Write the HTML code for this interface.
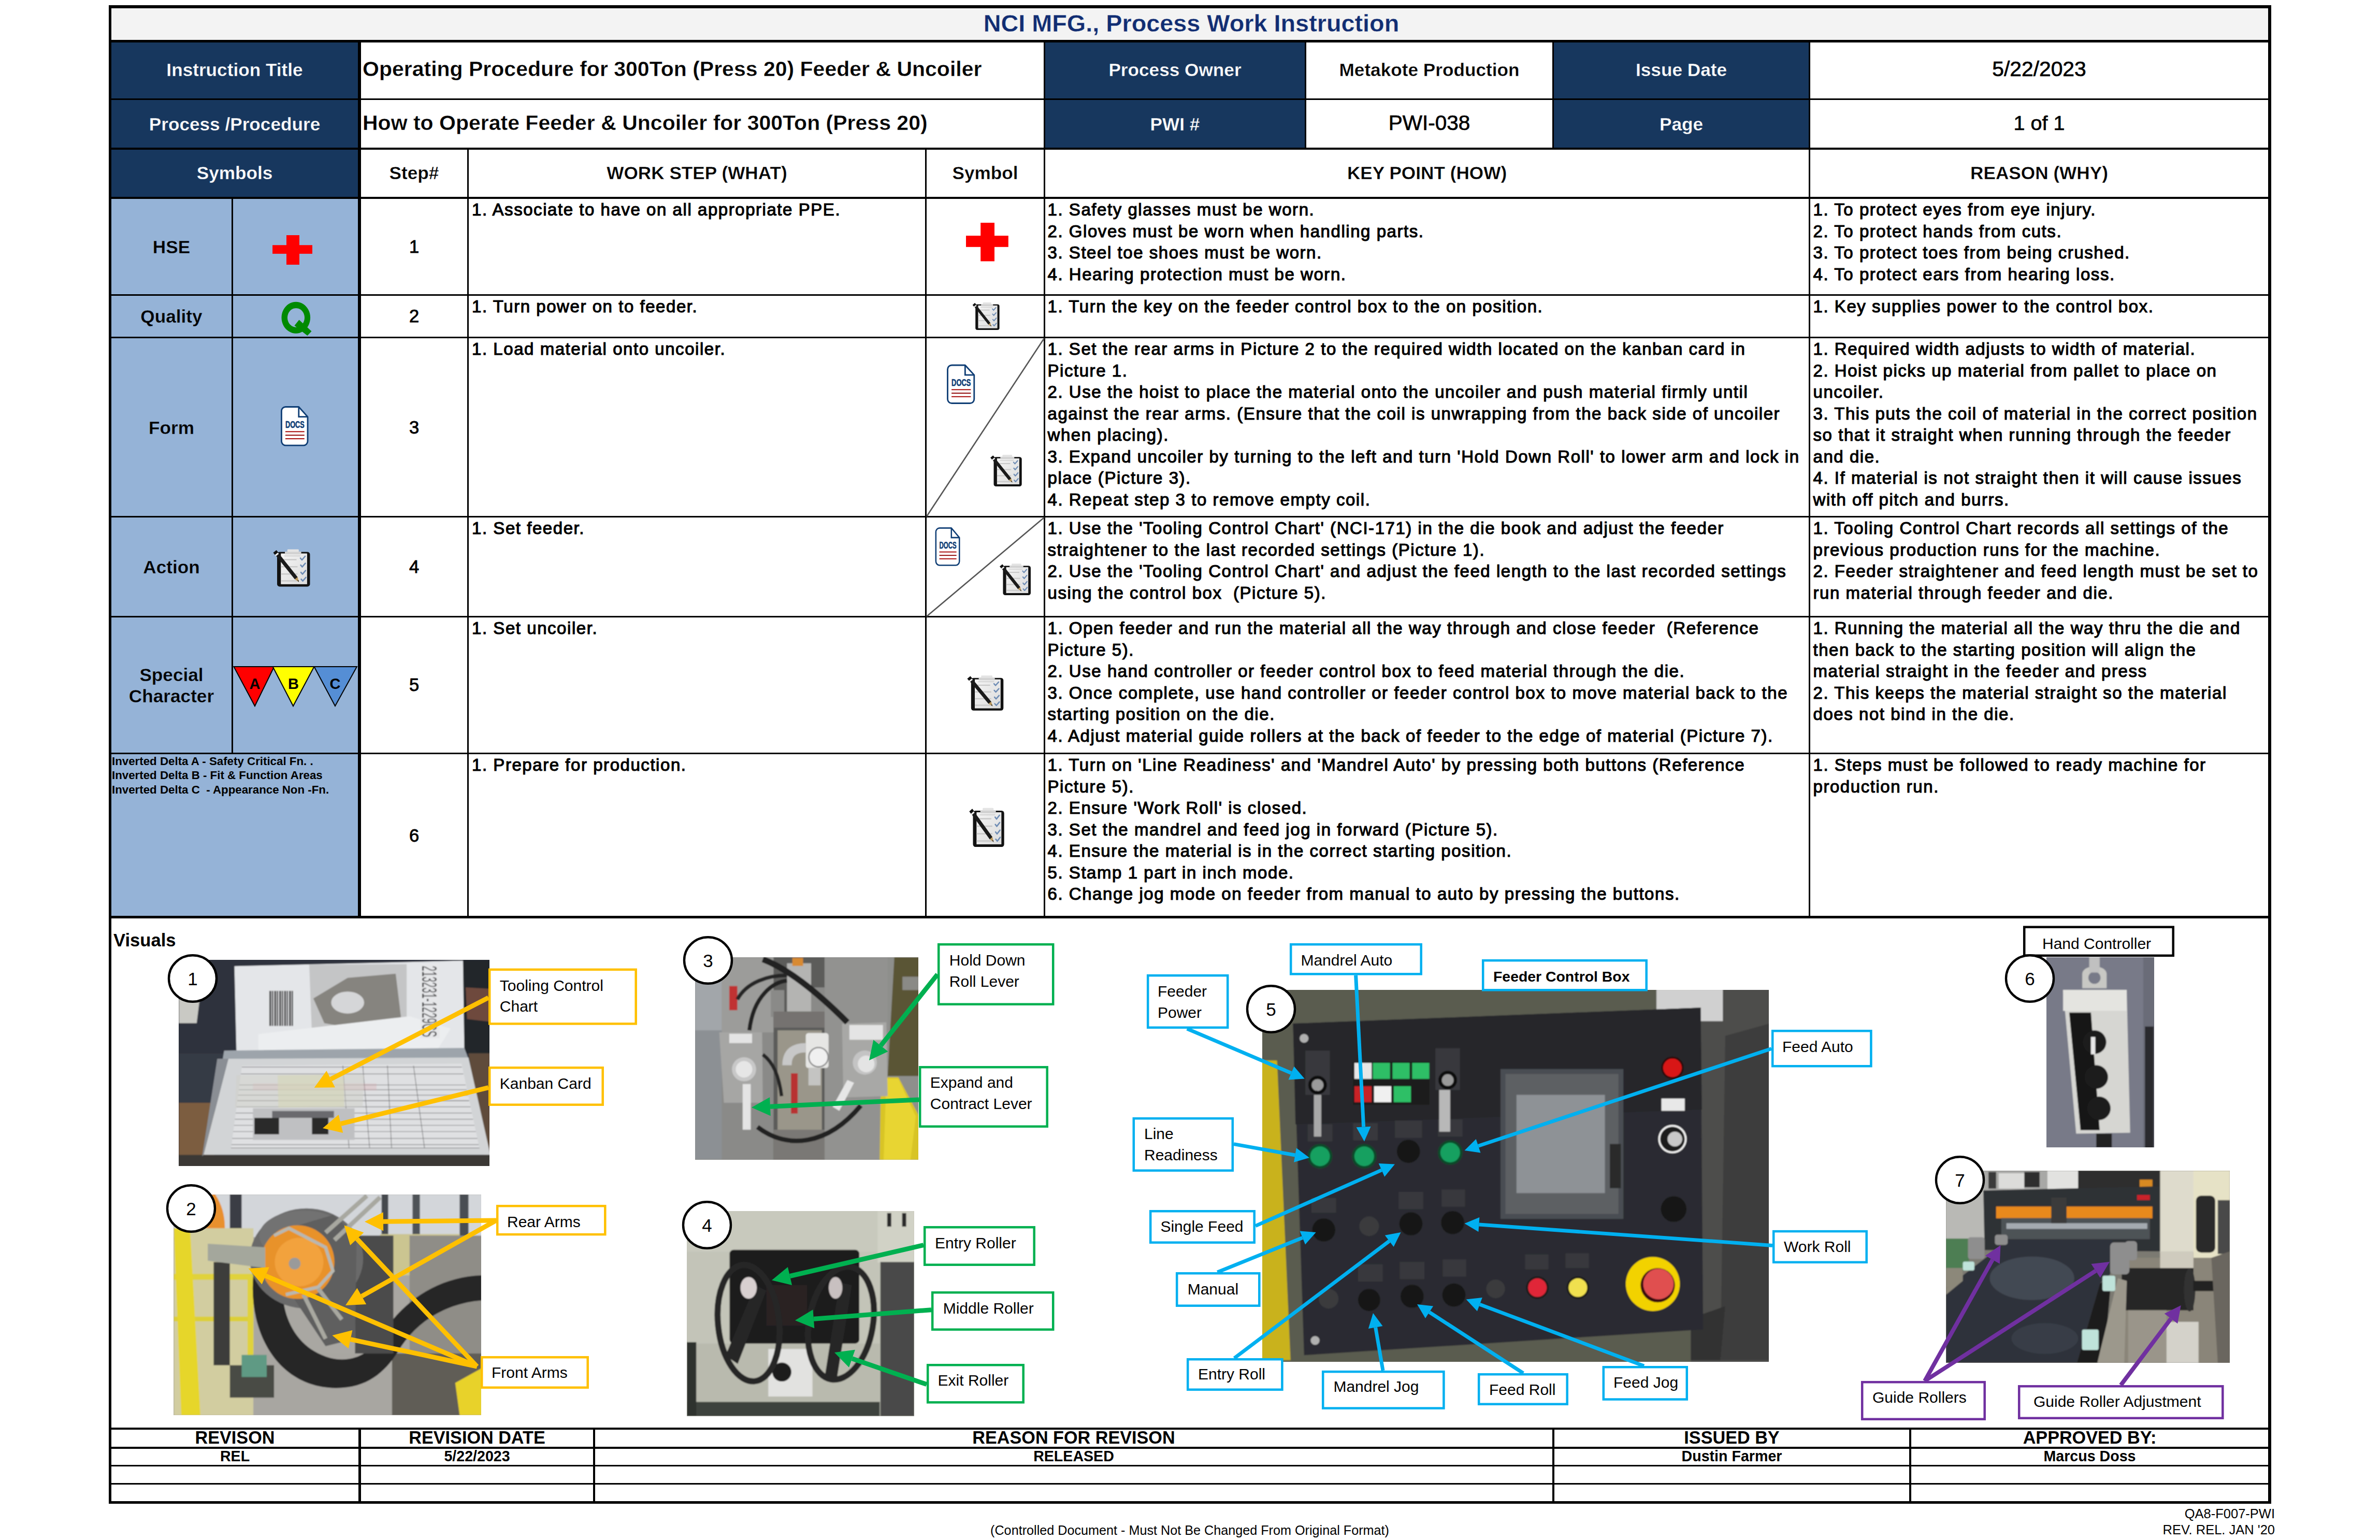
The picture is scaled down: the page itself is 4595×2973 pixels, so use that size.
<!DOCTYPE html>
<html><head><meta charset="utf-8"><title>NCI MFG., Process Work Instruction</title>
<style>
html,body{margin:0;padding:0;background:#fff;}
body{width:4595px;height:2973px;position:relative;overflow:hidden;font-family:"Liberation Sans", sans-serif;}
body div{font-family:"Liberation Sans", sans-serif;}
svg{position:absolute;left:0;top:0;}
</style></head><body>
<div style="position:absolute;left:215px;top:16px;width:4164px;height:61px;background:#f3f3f3;"></div>
<div style="position:absolute;left:215px;top:82px;width:476px;height:298px;background:#17375e;"></div>
<div style="position:absolute;left:2018px;top:82px;width:501px;height:203px;background:#17375e;"></div>
<div style="position:absolute;left:3000px;top:82px;width:492px;height:203px;background:#17375e;"></div>
<div style="position:absolute;left:215px;top:384px;width:476px;height:1384px;background:#95b3d7;"></div>
<div style="position:absolute;left:210px;top:10px;width:4175px;height:6px;background:#000;"></div>
<div style="position:absolute;left:210px;top:77px;width:4175px;height:5px;background:#000;"></div>
<div style="position:absolute;left:210px;top:190px;width:4175px;height:3px;background:#000;"></div>
<div style="position:absolute;left:210px;top:285px;width:4175px;height:4px;background:#000;"></div>
<div style="position:absolute;left:210px;top:380px;width:4175px;height:4px;background:#000;"></div>
<div style="position:absolute;left:210px;top:568px;width:4175px;height:3px;background:#000;"></div>
<div style="position:absolute;left:210px;top:650px;width:4175px;height:3px;background:#000;"></div>
<div style="position:absolute;left:210px;top:996px;width:4175px;height:3px;background:#000;"></div>
<div style="position:absolute;left:210px;top:1189px;width:4175px;height:3px;background:#000;"></div>
<div style="position:absolute;left:210px;top:1453px;width:4175px;height:3px;background:#000;"></div>
<div style="position:absolute;left:210px;top:1768px;width:4175px;height:5px;background:#000;"></div>
<div style="position:absolute;left:210px;top:2756px;width:4175px;height:4px;background:#000;"></div>
<div style="position:absolute;left:210px;top:2793px;width:4175px;height:4px;background:#000;"></div>
<div style="position:absolute;left:210px;top:2828px;width:4175px;height:3px;background:#000;"></div>
<div style="position:absolute;left:210px;top:2863px;width:4175px;height:3px;background:#000;"></div>
<div style="position:absolute;left:210px;top:2898px;width:4175px;height:5px;background:#000;"></div>
<div style="position:absolute;left:210px;top:10px;width:5px;height:2893px;background:#000;"></div>
<div style="position:absolute;left:4379px;top:10px;width:6px;height:2893px;background:#000;"></div>
<div style="position:absolute;left:447px;top:384px;width:3px;height:1069px;background:#000;"></div>
<div style="position:absolute;left:691px;top:82px;width:6px;height:1691px;background:#000;"></div>
<div style="position:absolute;left:902px;top:289px;width:3px;height:1479px;background:#000;"></div>
<div style="position:absolute;left:1786px;top:289px;width:3px;height:1479px;background:#000;"></div>
<div style="position:absolute;left:2015px;top:82px;width:3px;height:1686px;background:#000;"></div>
<div style="position:absolute;left:2519px;top:82px;width:3px;height:207px;background:#000;"></div>
<div style="position:absolute;left:2997px;top:82px;width:3px;height:207px;background:#000;"></div>
<div style="position:absolute;left:3492px;top:82px;width:3px;height:1686px;background:#000;"></div>
<div style="position:absolute;left:692px;top:2756px;width:5px;height:147px;background:#000;"></div>
<div style="position:absolute;left:1145px;top:2756px;width:4px;height:147px;background:#000;"></div>
<div style="position:absolute;left:2997px;top:2756px;width:4px;height:147px;background:#000;"></div>
<div style="position:absolute;left:3686px;top:2756px;width:4px;height:147px;background:#000;"></div>
<div style="position:absolute;left:218px;top:21.67px;width:4164px;font-size:46.8px;line-height:46.8px;font-weight:bold;color:#112d72;text-align:center;white-space:pre;-webkit-text-stroke:0.35px #f3f3f3;">NCI MFG., Process Work Instruction</div>
<div style="position:absolute;left:215px;top:116.69px;width:476px;font-size:35.2px;line-height:35.2px;font-weight:bold;color:#fff;text-align:center;white-space:pre;-webkit-text-stroke:0.35px #17375e;">Instruction Title</div>
<div style="position:absolute;left:215px;top:221.69px;width:476px;font-size:35.2px;line-height:35.2px;font-weight:bold;color:#fff;text-align:center;white-space:pre;-webkit-text-stroke:0.35px #17375e;">Process /Procedure</div>
<div style="position:absolute;left:215px;top:316.19px;width:476px;font-size:35.2px;line-height:35.2px;font-weight:bold;color:#fff;text-align:center;white-space:pre;-webkit-text-stroke:0.35px #17375e;">Symbols</div>
<div style="position:absolute;left:700px;top:113.08px;font-size:41px;line-height:41px;font-weight:bold;color:#000;text-align:left;white-space:pre;-webkit-text-stroke:0.35px #fff;">Operating Procedure for 300Ton (Press 20) Feeder &amp; Uncoiler</div>
<div style="position:absolute;left:700px;top:217.48px;font-size:41px;line-height:41px;font-weight:bold;color:#000;text-align:left;white-space:pre;-webkit-text-stroke:0.35px #fff;">How to Operate Feeder &amp; Uncoiler for 300Ton (Press 20)</div>
<div style="position:absolute;left:2018px;top:117.19px;width:501px;font-size:35.2px;line-height:35.2px;font-weight:bold;color:#fff;text-align:center;white-space:pre;-webkit-text-stroke:0.35px #17375e;">Process Owner</div>
<div style="position:absolute;left:2018px;top:221.69px;width:501px;font-size:35.2px;line-height:35.2px;font-weight:bold;color:#fff;text-align:center;white-space:pre;-webkit-text-stroke:0.35px #17375e;">PWI #</div>
<div style="position:absolute;left:2522px;top:117.19px;width:475px;font-size:35.2px;line-height:35.2px;font-weight:bold;color:#000;text-align:center;white-space:pre;-webkit-text-stroke:0.35px #fff;">Metakote Production</div>
<div style="position:absolute;left:2522px;top:217.40px;width:475px;font-size:40.5px;line-height:40.5px;font-weight:normal;color:#000;text-align:center;white-space:pre;-webkit-text-stroke:0.7px #000;">PWI-038</div>
<div style="position:absolute;left:3000px;top:117.19px;width:492px;font-size:35.2px;line-height:35.2px;font-weight:bold;color:#fff;text-align:center;white-space:pre;-webkit-text-stroke:0.35px #17375e;">Issue Date</div>
<div style="position:absolute;left:3000px;top:221.69px;width:492px;font-size:35.2px;line-height:35.2px;font-weight:bold;color:#fff;text-align:center;white-space:pre;-webkit-text-stroke:0.35px #17375e;">Page</div>
<div style="position:absolute;left:3495px;top:113.45px;width:884px;font-size:40.8px;line-height:40.8px;font-weight:normal;color:#000;text-align:center;white-space:pre;-webkit-text-stroke:0.7px #000;">5/22/2023</div>
<div style="position:absolute;left:3495px;top:217.55px;width:884px;font-size:39.5px;line-height:39.5px;font-weight:normal;color:#000;text-align:center;white-space:pre;-webkit-text-stroke:0.7px #000;">1 of 1</div>
<div style="position:absolute;left:697px;top:316.19px;width:205px;font-size:35.2px;line-height:35.2px;font-weight:bold;color:#000;text-align:center;white-space:pre;-webkit-text-stroke:0.35px #fff;">Step#</div>
<div style="position:absolute;left:905px;top:316.19px;width:881px;font-size:35.2px;line-height:35.2px;font-weight:bold;color:#000;text-align:center;white-space:pre;-webkit-text-stroke:0.35px #fff;">WORK STEP (WHAT)</div>
<div style="position:absolute;left:1789px;top:316.19px;width:226px;font-size:35.2px;line-height:35.2px;font-weight:bold;color:#000;text-align:center;white-space:pre;-webkit-text-stroke:0.35px #fff;">Symbol</div>
<div style="position:absolute;left:2018px;top:316.19px;width:1474px;font-size:35.2px;line-height:35.2px;font-weight:bold;color:#000;text-align:center;white-space:pre;-webkit-text-stroke:0.35px #fff;">KEY POINT (HOW)</div>
<div style="position:absolute;left:3495px;top:316.19px;width:884px;font-size:35.2px;line-height:35.2px;font-weight:bold;color:#000;text-align:center;white-space:pre;-webkit-text-stroke:0.35px #fff;">REASON (WHY)</div>
<div style="position:absolute;left:215px;top:458.59px;width:232px;font-size:35.2px;line-height:35.2px;font-weight:bold;color:#000;text-align:center;white-space:pre;-webkit-text-stroke:0.35px #95b3d7;">HSE</div>
<div style="position:absolute;left:215px;top:592.69px;width:232px;font-size:35.2px;line-height:35.2px;font-weight:bold;color:#000;text-align:center;white-space:pre;-webkit-text-stroke:0.35px #95b3d7;">Quality</div>
<div style="position:absolute;left:215px;top:807.69px;width:232px;font-size:35.2px;line-height:35.2px;font-weight:bold;color:#000;text-align:center;white-space:pre;-webkit-text-stroke:0.35px #95b3d7;">Form</div>
<div style="position:absolute;left:215px;top:1076.69px;width:232px;font-size:35.2px;line-height:35.2px;font-weight:bold;color:#000;text-align:center;white-space:pre;-webkit-text-stroke:0.35px #95b3d7;">Action</div>
<div style="position:absolute;left:215px;top:1284.59px;width:232px;font-size:35.2px;line-height:35.2px;font-weight:bold;color:#000;text-align:center;white-space:pre;-webkit-text-stroke:0.35px #95b3d7;">Special</div>
<div style="position:absolute;left:215px;top:1326.19px;width:232px;font-size:35.2px;line-height:35.2px;font-weight:bold;color:#000;text-align:center;white-space:pre;-webkit-text-stroke:0.35px #95b3d7;">Character</div>
<div style="position:absolute;left:697px;top:459.09px;width:205px;font-size:34.5px;line-height:34.5px;font-weight:normal;color:#000;text-align:center;white-space:pre;-webkit-text-stroke:0.9px #000;">1</div>
<div style="position:absolute;left:697px;top:592.99px;width:205px;font-size:34.5px;line-height:34.5px;font-weight:normal;color:#000;text-align:center;white-space:pre;-webkit-text-stroke:0.9px #000;">2</div>
<div style="position:absolute;left:697px;top:807.99px;width:205px;font-size:34.5px;line-height:34.5px;font-weight:normal;color:#000;text-align:center;white-space:pre;-webkit-text-stroke:0.9px #000;">3</div>
<div style="position:absolute;left:697px;top:1076.99px;width:205px;font-size:34.5px;line-height:34.5px;font-weight:normal;color:#000;text-align:center;white-space:pre;-webkit-text-stroke:0.9px #000;">4</div>
<div style="position:absolute;left:697px;top:1305.49px;width:205px;font-size:34.5px;line-height:34.5px;font-weight:normal;color:#000;text-align:center;white-space:pre;-webkit-text-stroke:0.9px #000;">5</div>
<div style="position:absolute;left:697px;top:1595.89px;width:205px;font-size:34.5px;line-height:34.5px;font-weight:normal;color:#000;text-align:center;white-space:pre;-webkit-text-stroke:0.9px #000;">6</div>
<div style="position:absolute;left:216px;top:1459.12px;font-size:22.3px;line-height:22.3px;font-weight:bold;color:#000;text-align:left;white-space:pre;">Inverted Delta A - Safety Critical Fn. .</div>
<div style="position:absolute;left:216px;top:1486.42px;font-size:22.3px;line-height:22.3px;font-weight:bold;color:#000;text-align:left;white-space:pre;">Inverted Delta B - Fit &amp; Function Areas</div>
<div style="position:absolute;left:216px;top:1513.72px;font-size:22.3px;line-height:22.3px;font-weight:bold;color:#000;text-align:left;white-space:pre;">Inverted Delta C  - Appearance Non -Fn.</div>
<div style="position:absolute;left:911px;top:388.06px;font-size:33px;line-height:33px;font-weight:normal;letter-spacing:1.55px;-webkit-text-stroke:1.15px #000;color:#000;white-space:pre;">1. Associate to have on all appropriate PPE.</div>
<div style="position:absolute;left:2022.5px;top:388.06px;font-size:33px;line-height:33px;font-weight:normal;letter-spacing:1.55px;-webkit-text-stroke:1.15px #000;color:#000;white-space:pre;">1. Safety glasses must be worn.</div>
<div style="position:absolute;left:2022.5px;top:429.56px;font-size:33px;line-height:33px;font-weight:normal;letter-spacing:1.55px;-webkit-text-stroke:1.15px #000;color:#000;white-space:pre;">2. Gloves must be worn when handling parts.</div>
<div style="position:absolute;left:2022.5px;top:471.06px;font-size:33px;line-height:33px;font-weight:normal;letter-spacing:1.55px;-webkit-text-stroke:1.15px #000;color:#000;white-space:pre;">3. Steel toe shoes must be worn.</div>
<div style="position:absolute;left:2022.5px;top:512.56px;font-size:33px;line-height:33px;font-weight:normal;letter-spacing:1.55px;-webkit-text-stroke:1.15px #000;color:#000;white-space:pre;">4. Hearing protection must be worn.</div>
<div style="position:absolute;left:3500.5px;top:388.06px;font-size:33px;line-height:33px;font-weight:normal;letter-spacing:1.55px;-webkit-text-stroke:1.15px #000;color:#000;white-space:pre;">1. To protect eyes from eye injury.</div>
<div style="position:absolute;left:3500.5px;top:429.56px;font-size:33px;line-height:33px;font-weight:normal;letter-spacing:1.55px;-webkit-text-stroke:1.15px #000;color:#000;white-space:pre;">2. To protect hands from cuts.</div>
<div style="position:absolute;left:3500.5px;top:471.06px;font-size:33px;line-height:33px;font-weight:normal;letter-spacing:1.55px;-webkit-text-stroke:1.15px #000;color:#000;white-space:pre;">3. To protect toes from being crushed.</div>
<div style="position:absolute;left:3500.5px;top:512.56px;font-size:33px;line-height:33px;font-weight:normal;letter-spacing:1.55px;-webkit-text-stroke:1.15px #000;color:#000;white-space:pre;">4. To protect ears from hearing loss.</div>
<div style="position:absolute;left:911px;top:575.06px;font-size:33px;line-height:33px;font-weight:normal;letter-spacing:1.55px;-webkit-text-stroke:1.15px #000;color:#000;white-space:pre;">1. Turn power on to feeder.</div>
<div style="position:absolute;left:2022.5px;top:575.06px;font-size:33px;line-height:33px;font-weight:normal;letter-spacing:1.55px;-webkit-text-stroke:1.15px #000;color:#000;white-space:pre;">1. Turn the key on the feeder control box to the on position.</div>
<div style="position:absolute;left:3500.5px;top:575.06px;font-size:33px;line-height:33px;font-weight:normal;letter-spacing:1.55px;-webkit-text-stroke:1.15px #000;color:#000;white-space:pre;">1. Key supplies power to the control box.</div>
<div style="position:absolute;left:911px;top:657.06px;font-size:33px;line-height:33px;font-weight:normal;letter-spacing:1.55px;-webkit-text-stroke:1.15px #000;color:#000;white-space:pre;">1. Load material onto uncoiler.</div>
<div style="position:absolute;left:2022.5px;top:657.06px;font-size:33px;line-height:33px;font-weight:normal;letter-spacing:1.55px;-webkit-text-stroke:1.15px #000;color:#000;white-space:pre;">1. Set the rear arms in Picture 2 to the required width located on the kanban card in</div>
<div style="position:absolute;left:2022.5px;top:698.56px;font-size:33px;line-height:33px;font-weight:normal;letter-spacing:1.55px;-webkit-text-stroke:1.15px #000;color:#000;white-space:pre;">Picture 1.</div>
<div style="position:absolute;left:2022.5px;top:740.06px;font-size:33px;line-height:33px;font-weight:normal;letter-spacing:1.55px;-webkit-text-stroke:1.15px #000;color:#000;white-space:pre;">2. Use the hoist to place the material onto the uncoiler and push material firmly until</div>
<div style="position:absolute;left:2022.5px;top:781.56px;font-size:33px;line-height:33px;font-weight:normal;letter-spacing:1.55px;-webkit-text-stroke:1.15px #000;color:#000;white-space:pre;">against the rear arms. (Ensure that the coil is unwrapping from the back side of uncoiler</div>
<div style="position:absolute;left:2022.5px;top:823.06px;font-size:33px;line-height:33px;font-weight:normal;letter-spacing:1.55px;-webkit-text-stroke:1.15px #000;color:#000;white-space:pre;">when placing).</div>
<div style="position:absolute;left:2022.5px;top:864.56px;font-size:33px;line-height:33px;font-weight:normal;letter-spacing:1.55px;-webkit-text-stroke:1.15px #000;color:#000;white-space:pre;">3. Expand uncoiler by turning to the left and turn &#x27;Hold Down Roll&#x27; to lower arm and lock in</div>
<div style="position:absolute;left:2022.5px;top:906.06px;font-size:33px;line-height:33px;font-weight:normal;letter-spacing:1.55px;-webkit-text-stroke:1.15px #000;color:#000;white-space:pre;">place (Picture 3).</div>
<div style="position:absolute;left:2022.5px;top:947.56px;font-size:33px;line-height:33px;font-weight:normal;letter-spacing:1.55px;-webkit-text-stroke:1.15px #000;color:#000;white-space:pre;">4. Repeat step 3 to remove empty coil.</div>
<div style="position:absolute;left:3500.5px;top:657.06px;font-size:33px;line-height:33px;font-weight:normal;letter-spacing:1.55px;-webkit-text-stroke:1.15px #000;color:#000;white-space:pre;">1. Required width adjusts to width of material.</div>
<div style="position:absolute;left:3500.5px;top:698.56px;font-size:33px;line-height:33px;font-weight:normal;letter-spacing:1.55px;-webkit-text-stroke:1.15px #000;color:#000;white-space:pre;">2. Hoist picks up material from pallet to place on</div>
<div style="position:absolute;left:3500.5px;top:740.06px;font-size:33px;line-height:33px;font-weight:normal;letter-spacing:1.55px;-webkit-text-stroke:1.15px #000;color:#000;white-space:pre;">uncoiler.</div>
<div style="position:absolute;left:3500.5px;top:781.56px;font-size:33px;line-height:33px;font-weight:normal;letter-spacing:1.55px;-webkit-text-stroke:1.15px #000;color:#000;white-space:pre;">3. This puts the coil of material in the correct position</div>
<div style="position:absolute;left:3500.5px;top:823.06px;font-size:33px;line-height:33px;font-weight:normal;letter-spacing:1.55px;-webkit-text-stroke:1.15px #000;color:#000;white-space:pre;">so that it straight when running through the feeder</div>
<div style="position:absolute;left:3500.5px;top:864.56px;font-size:33px;line-height:33px;font-weight:normal;letter-spacing:1.55px;-webkit-text-stroke:1.15px #000;color:#000;white-space:pre;">and die.</div>
<div style="position:absolute;left:3500.5px;top:906.06px;font-size:33px;line-height:33px;font-weight:normal;letter-spacing:1.55px;-webkit-text-stroke:1.15px #000;color:#000;white-space:pre;">4. If material is not straight then it will cause issues</div>
<div style="position:absolute;left:3500.5px;top:947.56px;font-size:33px;line-height:33px;font-weight:normal;letter-spacing:1.55px;-webkit-text-stroke:1.15px #000;color:#000;white-space:pre;">with off pitch and burrs.</div>
<div style="position:absolute;left:911px;top:1003.06px;font-size:33px;line-height:33px;font-weight:normal;letter-spacing:1.55px;-webkit-text-stroke:1.15px #000;color:#000;white-space:pre;">1. Set feeder.</div>
<div style="position:absolute;left:2022.5px;top:1003.06px;font-size:33px;line-height:33px;font-weight:normal;letter-spacing:1.55px;-webkit-text-stroke:1.15px #000;color:#000;white-space:pre;">1. Use the &#x27;Tooling Control Chart&#x27; (NCI-171) in the die book and adjust the feeder</div>
<div style="position:absolute;left:2022.5px;top:1044.56px;font-size:33px;line-height:33px;font-weight:normal;letter-spacing:1.55px;-webkit-text-stroke:1.15px #000;color:#000;white-space:pre;">straightener to the last recorded settings (Picture 1).</div>
<div style="position:absolute;left:2022.5px;top:1086.06px;font-size:33px;line-height:33px;font-weight:normal;letter-spacing:1.55px;-webkit-text-stroke:1.15px #000;color:#000;white-space:pre;">2. Use the &#x27;Tooling Control Chart&#x27; and adjust the feed length to the last recorded settings</div>
<div style="position:absolute;left:2022.5px;top:1127.56px;font-size:33px;line-height:33px;font-weight:normal;letter-spacing:1.55px;-webkit-text-stroke:1.15px #000;color:#000;white-space:pre;">using the control box  (Picture 5).</div>
<div style="position:absolute;left:3500.5px;top:1003.06px;font-size:33px;line-height:33px;font-weight:normal;letter-spacing:1.55px;-webkit-text-stroke:1.15px #000;color:#000;white-space:pre;">1. Tooling Control Chart records all settings of the</div>
<div style="position:absolute;left:3500.5px;top:1044.56px;font-size:33px;line-height:33px;font-weight:normal;letter-spacing:1.55px;-webkit-text-stroke:1.15px #000;color:#000;white-space:pre;">previous production runs for the machine.</div>
<div style="position:absolute;left:3500.5px;top:1086.06px;font-size:33px;line-height:33px;font-weight:normal;letter-spacing:1.55px;-webkit-text-stroke:1.15px #000;color:#000;white-space:pre;">2. Feeder straightener and feed length must be set to</div>
<div style="position:absolute;left:3500.5px;top:1127.56px;font-size:33px;line-height:33px;font-weight:normal;letter-spacing:1.55px;-webkit-text-stroke:1.15px #000;color:#000;white-space:pre;">run material through feeder and die.</div>
<div style="position:absolute;left:911px;top:1196.06px;font-size:33px;line-height:33px;font-weight:normal;letter-spacing:1.55px;-webkit-text-stroke:1.15px #000;color:#000;white-space:pre;">1. Set uncoiler.</div>
<div style="position:absolute;left:2022.5px;top:1196.06px;font-size:33px;line-height:33px;font-weight:normal;letter-spacing:1.55px;-webkit-text-stroke:1.15px #000;color:#000;white-space:pre;">1. Open feeder and run the material all the way through and close feeder  (Reference</div>
<div style="position:absolute;left:2022.5px;top:1237.56px;font-size:33px;line-height:33px;font-weight:normal;letter-spacing:1.55px;-webkit-text-stroke:1.15px #000;color:#000;white-space:pre;">Picture 5).</div>
<div style="position:absolute;left:2022.5px;top:1279.06px;font-size:33px;line-height:33px;font-weight:normal;letter-spacing:1.55px;-webkit-text-stroke:1.15px #000;color:#000;white-space:pre;">2. Use hand controller or feeder control box to feed material through the die.</div>
<div style="position:absolute;left:2022.5px;top:1320.56px;font-size:33px;line-height:33px;font-weight:normal;letter-spacing:1.55px;-webkit-text-stroke:1.15px #000;color:#000;white-space:pre;">3. Once complete, use hand controller or feeder control box to move material back to the</div>
<div style="position:absolute;left:2022.5px;top:1362.06px;font-size:33px;line-height:33px;font-weight:normal;letter-spacing:1.55px;-webkit-text-stroke:1.15px #000;color:#000;white-space:pre;">starting position on the die.</div>
<div style="position:absolute;left:2022.5px;top:1403.56px;font-size:33px;line-height:33px;font-weight:normal;letter-spacing:1.55px;-webkit-text-stroke:1.15px #000;color:#000;white-space:pre;">4. Adjust material guide rollers at the back of feeder to the edge of material (Picture 7).</div>
<div style="position:absolute;left:3500.5px;top:1196.06px;font-size:33px;line-height:33px;font-weight:normal;letter-spacing:1.55px;-webkit-text-stroke:1.15px #000;color:#000;white-space:pre;">1. Running the material all the way thru the die and</div>
<div style="position:absolute;left:3500.5px;top:1237.56px;font-size:33px;line-height:33px;font-weight:normal;letter-spacing:1.55px;-webkit-text-stroke:1.15px #000;color:#000;white-space:pre;">then back to the starting position will align the</div>
<div style="position:absolute;left:3500.5px;top:1279.06px;font-size:33px;line-height:33px;font-weight:normal;letter-spacing:1.55px;-webkit-text-stroke:1.15px #000;color:#000;white-space:pre;">material straight in the feeder and press</div>
<div style="position:absolute;left:3500.5px;top:1320.56px;font-size:33px;line-height:33px;font-weight:normal;letter-spacing:1.55px;-webkit-text-stroke:1.15px #000;color:#000;white-space:pre;">2. This keeps the material straight so the material</div>
<div style="position:absolute;left:3500.5px;top:1362.06px;font-size:33px;line-height:33px;font-weight:normal;letter-spacing:1.55px;-webkit-text-stroke:1.15px #000;color:#000;white-space:pre;">does not bind in the die.</div>
<div style="position:absolute;left:911px;top:1460.06px;font-size:33px;line-height:33px;font-weight:normal;letter-spacing:1.55px;-webkit-text-stroke:1.15px #000;color:#000;white-space:pre;">1. Prepare for production.</div>
<div style="position:absolute;left:2022.5px;top:1460.06px;font-size:33px;line-height:33px;font-weight:normal;letter-spacing:1.55px;-webkit-text-stroke:1.15px #000;color:#000;white-space:pre;">1. Turn on &#x27;Line Readiness&#x27; and &#x27;Mandrel Auto&#x27; by pressing both buttons (Reference</div>
<div style="position:absolute;left:2022.5px;top:1501.56px;font-size:33px;line-height:33px;font-weight:normal;letter-spacing:1.55px;-webkit-text-stroke:1.15px #000;color:#000;white-space:pre;">Picture 5).</div>
<div style="position:absolute;left:2022.5px;top:1543.06px;font-size:33px;line-height:33px;font-weight:normal;letter-spacing:1.55px;-webkit-text-stroke:1.15px #000;color:#000;white-space:pre;">2. Ensure &#x27;Work Roll&#x27; is closed.</div>
<div style="position:absolute;left:2022.5px;top:1584.56px;font-size:33px;line-height:33px;font-weight:normal;letter-spacing:1.55px;-webkit-text-stroke:1.15px #000;color:#000;white-space:pre;">3. Set the mandrel and feed jog in forward (Picture 5).</div>
<div style="position:absolute;left:2022.5px;top:1626.06px;font-size:33px;line-height:33px;font-weight:normal;letter-spacing:1.55px;-webkit-text-stroke:1.15px #000;color:#000;white-space:pre;">4. Ensure the material is in the correct starting position.</div>
<div style="position:absolute;left:2022.5px;top:1667.56px;font-size:33px;line-height:33px;font-weight:normal;letter-spacing:1.55px;-webkit-text-stroke:1.15px #000;color:#000;white-space:pre;">5. Stamp 1 part in inch mode.</div>
<div style="position:absolute;left:2022.5px;top:1709.06px;font-size:33px;line-height:33px;font-weight:normal;letter-spacing:1.55px;-webkit-text-stroke:1.15px #000;color:#000;white-space:pre;">6. Change jog mode on feeder from manual to auto by pressing the buttons.</div>
<div style="position:absolute;left:3500.5px;top:1460.06px;font-size:33px;line-height:33px;font-weight:normal;letter-spacing:1.55px;-webkit-text-stroke:1.15px #000;color:#000;white-space:pre;">1. Steps must be followed to ready machine for</div>
<div style="position:absolute;left:3500.5px;top:1501.56px;font-size:33px;line-height:33px;font-weight:normal;letter-spacing:1.55px;-webkit-text-stroke:1.15px #000;color:#000;white-space:pre;">production run.</div>
<div style="position:absolute;left:215px;top:2758.04px;width:477px;font-size:34.2px;line-height:34.2px;font-weight:bold;color:#000;text-align:center;white-space:pre;">REVISON</div>
<div style="position:absolute;left:215px;top:2797.18px;width:477px;font-size:28.6px;line-height:28.6px;font-weight:bold;color:#000;text-align:center;white-space:pre;">REL</div>
<div style="position:absolute;left:697px;top:2758.04px;width:448px;font-size:34.2px;line-height:34.2px;font-weight:bold;color:#000;text-align:center;white-space:pre;">REVISION DATE</div>
<div style="position:absolute;left:697px;top:2797.18px;width:448px;font-size:28.6px;line-height:28.6px;font-weight:bold;color:#000;text-align:center;white-space:pre;">5/22/2023</div>
<div style="position:absolute;left:1149px;top:2758.04px;width:1848px;font-size:34.2px;line-height:34.2px;font-weight:bold;color:#000;text-align:center;white-space:pre;">REASON FOR REVISON</div>
<div style="position:absolute;left:1149px;top:2797.18px;width:1848px;font-size:28.6px;line-height:28.6px;font-weight:bold;color:#000;text-align:center;white-space:pre;">RELEASED</div>
<div style="position:absolute;left:3001px;top:2758.04px;width:685px;font-size:34.2px;line-height:34.2px;font-weight:bold;color:#000;text-align:center;white-space:pre;">ISSUED BY</div>
<div style="position:absolute;left:3001px;top:2797.18px;width:685px;font-size:28.6px;line-height:28.6px;font-weight:bold;color:#000;text-align:center;white-space:pre;">Dustin Farmer</div>
<div style="position:absolute;left:3690px;top:2758.04px;width:689px;font-size:34.2px;line-height:34.2px;font-weight:bold;color:#000;text-align:center;white-space:pre;">APPROVED BY:</div>
<div style="position:absolute;left:3690px;top:2797.18px;width:689px;font-size:28.6px;line-height:28.6px;font-weight:bold;color:#000;text-align:center;white-space:pre;">Marcus Doss</div>
<div style="position:absolute;left:215px;top:2942.16px;width:4164px;font-size:25.2px;line-height:25.2px;font-weight:normal;color:#000;text-align:center;white-space:pre;">(Controlled Document - Must Not Be Changed From Original Format)</div>
<div style="position:absolute;left:3000px;top:2910.21px;width:1392px;font-size:25.5px;line-height:25.5px;font-weight:normal;color:#000;text-align:right;white-space:pre;">QA8-F007-PWI</div>
<div style="position:absolute;left:3000px;top:2941.41px;width:1392px;font-size:25.5px;line-height:25.5px;font-weight:normal;color:#000;text-align:right;white-space:pre;">REV. REL. JAN &#x27;20</div>
<div style="position:absolute;left:219px;top:1797.70px;font-size:34.6px;line-height:34.6px;font-weight:bold;color:#000;text-align:left;white-space:pre;">Visuals</div>
<svg width="4595" height="2973" viewBox="0 0 4595 2973" style="position:absolute;left:0;top:0">
<defs>
<clipPath id="cp1"><rect x="345" y="1853" width="600" height="398"/></clipPath>
<clipPath id="cp2"><rect x="335" y="2306" width="594" height="426"/></clipPath>
<clipPath id="cp3"><rect x="1342" y="1848" width="431" height="391"/></clipPath>
<clipPath id="cp4"><rect x="1326" y="2338" width="439" height="396"/></clipPath>
<clipPath id="cp5"><rect x="2437" y="1911" width="978" height="718"/></clipPath>
<clipPath id="cp6"><rect x="3951" y="1848" width="208" height="367"/></clipPath>
<clipPath id="cp7"><rect x="3757" y="2260" width="548" height="371"/></clipPath>
<filter id="soft" x="-2%" y="-2%" width="104%" height="104%"><feGaussianBlur stdDeviation="1.2"/></filter>
</defs>
<g clip-path="url(#cp1)"><g filter="url(#soft)"><g transform="translate(340,1848) scale(0.26497)">
<rect x="0" y="0" width="2400" height="1600" fill="#2e333c"/>
<rect x="20" y="1060" width="260" height="470" fill="#7b5d40"/>
<rect x="20" y="700" width="360" height="360" fill="#353a45"/>
<polygon points="20,300 170,320 150,480 20,480" fill="#c9c9c4"/>
<polygon points="2090,20 2290,20 2290,700 2100,700" fill="#23262b"/>
<polygon points="2110,220 2290,230 2290,470 2120,450" fill="#6e4a3e"/>
<polygon points="2130,700 2290,700 2290,1440 2240,1440" fill="#5e4c3b"/>
<polygon points="425,65 2090,25 2100,690 440,700" fill="#e4e6e9"/>
<polygon points="970,55 1680,50 1680,560 990,570" fill="#c4c5c6"/>
<polygon points="1000,300 1250,150 1600,120 1640,450 1300,520 1080,480" fill="#86847f"/>
<ellipse cx="1250" cy="330" rx="120" ry="80" fill="#d5d6d8"/>
<polygon points="600,560 1700,430 2000,520 1900,680 600,690" fill="#eceef0"/>
<rect x="670" y="240" width="180" height="260" fill="#e2e3e5"/><rect x="680" y="245" width="12" height="255" fill="#2e2e30"/><rect x="698" y="245" width="9" height="255" fill="#2e2e30"/><rect x="716" y="245" width="12" height="255" fill="#2e2e30"/><rect x="734" y="245" width="9" height="255" fill="#2e2e30"/><rect x="752" y="245" width="12" height="255" fill="#2e2e30"/><rect x="770" y="245" width="9" height="255" fill="#2e2e30"/><rect x="788" y="245" width="12" height="255" fill="#2e2e30"/><rect x="806" y="245" width="9" height="255" fill="#2e2e30"/><rect x="824" y="245" width="12" height="255" fill="#2e2e30"/><rect x="842" y="245" width="9" height="255" fill="#2e2e30"/>
<rect x="1780" y="50" width="140" height="540" fill="#e6e7e9"/>
<text transform="translate(1792,62) rotate(90)" font-family="Liberation Sans, sans-serif" font-size="150" fill="#3a3a3c" textLength="520" lengthAdjust="spacingAndGlyphs">213231-1229CS</text>
<polygon points="350,680 2100,660 2130,740 340,740" fill="#9da4ab"/>
<polygon points="380,740 2130,730 2290,1440 200,1440" fill="#d2d4d6"/>
<polygon points="480,790 2080,775 2210,1390 400,1395" fill="#dfe0e2"/>
<line x1="479" y1="800" x2="2082" y2="800" stroke="#6a6a6c" stroke-width="4"/>
<line x1="472" y1="850" x2="2093" y2="850" stroke="#6a6a6c" stroke-width="4"/>
<line x1="461" y1="930" x2="2110" y2="930" stroke="#6a6a6c" stroke-width="4"/>
<line x1="457" y1="965" x2="2118" y2="965" stroke="#6a6a6c" stroke-width="4"/>
<line x1="451" y1="1005" x2="2127" y2="1005" stroke="#6a6a6c" stroke-width="4"/>
<line x1="446" y1="1045" x2="2135" y2="1045" stroke="#6a6a6c" stroke-width="4"/>
<line x1="440" y1="1090" x2="2145" y2="1090" stroke="#6a6a6c" stroke-width="4"/>
<line x1="434" y1="1135" x2="2155" y2="1135" stroke="#6a6a6c" stroke-width="4"/>
<line x1="428" y1="1180" x2="2164" y2="1180" stroke="#6a6a6c" stroke-width="4"/>
<line x1="422" y1="1225" x2="2174" y2="1225" stroke="#6a6a6c" stroke-width="4"/>
<line x1="416" y1="1270" x2="2184" y2="1270" stroke="#6a6a6c" stroke-width="4"/>
<line x1="409" y1="1320" x2="2195" y2="1320" stroke="#6a6a6c" stroke-width="4"/>
<line x1="403" y1="1365" x2="2205" y2="1365" stroke="#6a6a6c" stroke-width="4"/>
<line x1="400" y1="1390" x2="2210" y2="1390" stroke="#6a6a6c" stroke-width="4"/>
<line x1="1215" y1="790" x2="1260" y2="1390" stroke="#6a6a6c" stroke-width="4"/>
<line x1="1360" y1="790" x2="1410" y2="1390" stroke="#6a6a6c" stroke-width="4"/>
<line x1="1730" y1="790" x2="1810" y2="1390" stroke="#6a6a6c" stroke-width="4"/>
<line x1="1540" y1="790" x2="1570" y2="1390" stroke="#6a6a6c" stroke-width="4"/>
<rect x="560" y="920" width="900" height="50" fill="#d8a8b0" opacity="0.35"/>
<polygon points="440,860 1370,855 1360,1090 430,1095" fill="#cfd0c8" opacity="0.5"/>
<polygon points="740,860 1220,855 1225,1090 745,1095" fill="#d6d7b8" opacity="0.6"/>
<polygon points="560,1100 1300,1100 1300,1330 560,1330" fill="#bfc0c2"/>
<rect x="570" y="1170" width="180" height="120" fill="#2a2a2c"/>
<rect x="990" y="1170" width="120" height="120" fill="#2a2a2c"/>
<rect x="700" y="1120" width="450" height="50" fill="#6a6a6e"/>
<rect x="20" y="1440" width="2270" height="90" fill="#3a3836"/>
<polygon points="200,1440 380,740 300,740 190,1450" fill="#8a8e94"/>
</g></g></g>
<g clip-path="url(#cp2)"><g filter="url(#soft)"><g transform="translate(330,2300) scale(0.28441)">
<rect x="0" y="0" width="2200" height="1600" fill="#a9a7a2"/>
<rect x="20" y="20" width="2090" height="290" fill="#d3d6da"/>
<rect x="400" y="20" width="80" height="290" fill="#3a3d44"/>
<rect x="1430" y="20" width="45" height="290" fill="#45484e"/>
<rect x="1640" y="20" width="50" height="290" fill="#505358"/>
<rect x="1960" y="20" width="60" height="290" fill="#4a4d52"/>
<path d="M230,20 L300,20 C390,150 380,330 320,440 L240,440 Z" fill="#e8902e"/>
<rect x="20" y="250" width="540" height="1270" fill="#d2cda0"/>
<rect x="20" y="560" width="540" height="40" fill="#e0d23a"/>
<rect x="20" y="850" width="540" height="32" fill="#dccf38"/>
<rect x="520" y="570" width="40" height="590" fill="#e0d23a"/>
<polygon points="20,250 130,250 200,1520 70,1520" fill="#e6d62c"/>
<rect x="290" y="480" width="110" height="700" fill="#3c3e3a"/>
<rect x="1420" y="290" width="540" height="280" fill="#cbc591"/>
<rect x="1620" y="300" width="490" height="800" fill="#8f8d87"/>
<rect x="1500" y="1100" width="610" height="420" fill="#605d57"/>
<rect x="560" y="1100" width="940" height="420" fill="#a8a6a1"/>
<rect x="400" y="1180" width="300" height="220" fill="#4a4c44"/>
<rect x="480" y="1110" width="170" height="150" fill="#5f9a84"/>
<path d="M560,560 C520,950 720,1330 1120,1335 C1330,1335 1450,1230 1540,1090 C1650,900 1850,760 2110,740 L2110,570 C1800,580 1560,760 1420,990 C1330,1130 1200,1160 1080,1130 C860,1070 740,860 760,600 Z" fill="#252527"/>
<rect x="1250" y="300" width="260" height="800" fill="#4c4c4c"/>
<ellipse cx="920" cy="455" rx="385" ry="340" fill="#6a6a6a"/>
<ellipse cx="900" cy="300" rx="300" ry="170" fill="#727272"/>
<polygon points="800,250 1100,160 1260,300 1250,1000 1050,1050 830,720" fill="#5e5e5e"/>
<circle cx="860" cy="480" r="250" fill="#e8922c"/>
<circle cx="870" cy="480" r="165" fill="#f2a23c"/>
<circle cx="840" cy="490" r="40" fill="#9a9a9a"/>
<path d="M700,300 L800,250 L1050,380 L1100,540 L1000,650 L780,700" fill="none" stroke="#b8b8b0" stroke-width="22"/>
<path d="M1050,280 L1330,30 M1110,330 L1420,40" stroke="#a8a8a0" stroke-width="30"/>
<path d="M900,700 L1050,1000 M1000,660 L1160,870" stroke="#a8a8a0" stroke-width="28"/>
<polygon points="250,355 640,380 640,520 250,470" fill="#a4a79c"/>
<polygon points="1930,1300 2110,1200 2110,1520 1960,1520" fill="#e8d22a"/>
</g></g></g>
<g clip-path="url(#cp3)"><g filter="url(#soft)"><g transform="translate(1338,1844) scale(0.25913)">
<rect x="0" y="0" width="1800" height="1600" fill="#8e8f8c"/>
<rect x="15" y="15" width="200" height="560" fill="#a2a6aa"/>
<rect x="15" y="560" width="200" height="960" fill="#8c9094"/>
<rect x="215" y="15" width="390" height="560" fill="#9c9c9a"/>
<rect x="215" y="575" width="390" height="950" fill="#8a8a88"/>
<rect x="980" y="15" width="470" height="1510" fill="#929290"/>
<polygon points="1500,15 1685,15 1685,900 1450,900" fill="#5a5436"/>
<rect x="1560" y="160" width="125" height="100" fill="#8a8a86"/>
<polygon points="1400,910 1530,910 1685,1200 1685,1525 1390,1525" fill="#d8c428"/>
<polygon points="1440,920 1530,920 1660,1200 1620,1525 1420,1525" fill="#e8d530"/>
<rect x="600" y="15" width="380" height="1510" fill="#5c5c5a"/>
<rect x="700" y="60" width="180" height="360" fill="#b4b4b2"/>
<rect x="740" y="20" width="80" height="60" fill="#d88a30"/>
<rect x="580" y="260" width="100" height="200" fill="#8a8a88"/>
<rect x="880" y="240" width="100" height="200" fill="#8a8a88"/>
<rect x="600" y="420" width="380" height="120" fill="#747270"/>
<rect x="630" y="560" width="330" height="760" fill="#9a968a"/>
<rect x="600" y="1300" width="380" height="225" fill="#7a7874"/>
<polygon points="195,575 515,575 520,1100 230,1100" fill="#a6a6a4"/>
<polygon points="1110,510 1440,500 1450,1050 1120,1060" fill="#a8a8a6"/>
<rect x="270" y="585" width="170" height="70" fill="#e4e4e4"/>
<rect x="1165" y="520" width="250" height="110" fill="#e4e4e4"/>
<circle cx="380" cy="850" r="90" fill="#c8c8c8"/>
<circle cx="380" cy="850" r="62" fill="#e6e6e6"/>
<circle cx="1280" cy="800" r="90" fill="#c4c4c4"/>
<circle cx="1290" cy="810" r="62" fill="#e4e4e4"/>
<rect x="840" y="580" width="170" height="260" rx="20" fill="#e6e6e4"/>
<circle cx="935" cy="760" r="72" fill="#f0f0f0" stroke="#888" stroke-width="10"/>
<rect x="860" y="840" width="90" height="130" fill="#c4c4c2"/>
<path d="M700,820 C700,720 760,690 840,690" stroke="#c8c8c8" stroke-width="70" fill="none"/>
<rect x="370" y="960" width="60" height="340" fill="#e4e4e4"/>
<polygon points="1040,1130 1090,1160 1200,950 1150,930" fill="#e6e6e6"/>
<rect x="730" y="880" width="50" height="300" fill="#b83030"/>
<rect x="270" y="230" width="60" height="180" fill="#c03030"/>
<path d="M520,30 C700,100 900,250 1150,500" stroke="#202020" stroke-width="45" fill="none"/>
<path d="M480,1280 C700,1450 1000,1420 1250,1120" stroke="#222" stroke-width="35" fill="none"/>
<path d="M420,560 C450,300 600,200 700,190" stroke="#222" stroke-width="30" fill="none"/>
<path d="M330,330 C400,200 560,150 700,150" stroke="#262626" stroke-width="28" fill="none"/>
<path d="M520,740 C600,800 640,900 660,1050" stroke="#262626" stroke-width="26" fill="none"/>
</g></g></g>
<g clip-path="url(#cp4)"><g filter="url(#soft)"><g transform="translate(1322,2334) scale(0.26230)">
<rect x="0" y="0" width="1800" height="1600" fill="#c3c4b8"/>
<rect x="15" y="15" width="1420" height="300" fill="#c8c9bd"/>
<rect x="1420" y="15" width="270" height="380" fill="#d1d2c6"/>
<rect x="1440" y="390" width="250" height="1135" fill="#4a4a4a"/>
<rect x="1490" y="30" width="30" height="100" fill="#2a2a2a"/>
<rect x="1600" y="30" width="30" height="100" fill="#2a2a2a"/>
<rect x="15" y="990" width="1420" height="440" fill="#b9baae"/>
<rect x="15" y="1420" width="1420" height="105" fill="#3e433c"/>
<rect x="15" y="980" width="70" height="545" fill="#2e302e"/>
<rect x="330" y="300" width="955" height="690" rx="30" fill="#1c1c1e"/>
<rect x="600" y="560" width="300" height="300" fill="#2a2224"/>
<rect x="615" y="1030" width="325" height="350" fill="#e2e2e0"/>
<circle cx="715" cy="1200" r="70" fill="#1e1e1e"/>
<ellipse cx="470" cy="840" rx="225" ry="430" transform="rotate(-6 470 840)" fill="none" stroke="#262626" stroke-width="45"/>
<polygon points="300,1080 390,1140 600,600 520,560" fill="#262626"/>
<ellipse cx="1150" cy="840" rx="235" ry="420" transform="rotate(10 1150 840)" fill="none" stroke="#262626" stroke-width="45"/>
<polygon points="1030,1240 1120,1250 1230,560 1140,540" fill="#262626"/>
<ellipse cx="470" cy="580" rx="60" ry="80" fill="#d8d0d0"/>
<ellipse cx="1110" cy="580" rx="50" ry="80" fill="#c8c0c0"/>
</g></g></g>
<g clip-path="url(#cp5)"><g filter="url(#soft)"><g transform="translate(2430,1905) scale(0.47416)">
<rect x="0" y="0" width="2200" height="1600" fill="#5a5b50"/>
<rect x="1760" y="10" width="330" height="1520" fill="#4e4e4c"/>
<polygon points="1900,200 2080,150 2080,1520 1880,1520" fill="#3c3c3c"/>
<polygon points="1760,1350 1900,1300 1880,1520 1760,1520" fill="#333"/>
<rect x="1620" y="10" width="270" height="130" fill="#d0d0d0"/>
<polygon points="10,300 75,300 130,1520 10,1520" fill="#c9b21e"/>
<polygon points="140,150 1800,85 1810,1395 185,1500" fill="#2a2c30"/>
<polygon points="140,150 1800,85 1805,500 150,560" fill="#26282c"/>
<rect x="985" y="335" width="500" height="610" fill="#4a4d52"/>
<rect x="1005" y="355" width="460" height="570" fill="#5d6064"/>
<rect x="1050" y="440" width="360" height="400" fill="#8e9296"/>
<rect x="1430" y="640" width="45" height="180" fill="#2a2a2a"/>
<g fill="#38393c">
<rect x="190" y="260" width="100" height="180"/><rect x="720" y="250" width="100" height="170"/>
<rect x="200" y="560" width="100" height="70"/><rect x="385" y="555" width="100" height="70"/><rect x="555" y="545" width="110" height="70"/><rect x="730" y="540" width="100" height="70"/>
<rect x="215" y="860" width="100" height="60"/><rect x="570" y="835" width="100" height="70"/><rect x="745" y="825" width="95" height="70"/>
<rect x="405" y="1130" width="100" height="70"/><rect x="575" y="1120" width="100" height="70"/><rect x="750" y="1110" width="95" height="70"/>
<rect x="1085" y="1090" width="95" height="60"/><rect x="1250" y="1085" width="95" height="60"/>
</g>
<g fill="#141416">
<circle cx="610" cy="670" r="47"/><circle cx="265" cy="990" r="47"/><circle cx="620" cy="965" r="47"/><circle cx="790" cy="960" r="47"/>
<circle cx="450" cy="1275" r="45"/><circle cx="625" cy="1260" r="47"/><circle cx="795" cy="1255" r="47"/>
</g>
<g fill="#3a3b3e"><circle cx="450" cy="975" r="40"/><circle cx="965" cy="1230" r="38"/><circle cx="285" cy="1270" r="40"/><circle cx="660" cy="420" r="30"/></g>
<circle cx="250" cy="690" r="50" fill="#0c4a2a"/><circle cx="250" cy="690" r="40" fill="#18a060"/>
<circle cx="430" cy="690" r="50" fill="#0c4a2a"/><circle cx="430" cy="690" r="40" fill="#18a060"/>
<circle cx="780" cy="675" r="50" fill="#0c4a2a"/><circle cx="780" cy="675" r="40" fill="#18a060"/>
<rect x="385" y="305" width="310" height="175" fill="#1a1a1a"/>
<rect x="390" y="310" width="70" height="65" fill="#e6e6e6"/>
<rect x="465" y="310" width="70" height="65" fill="#2fbf66"/>
<rect x="545" y="310" width="70" height="65" fill="#2fbf66"/>
<rect x="625" y="310" width="70" height="65" fill="#2fbf66"/>
<rect x="390" y="405" width="70" height="65" fill="#c82028"/>
<rect x="470" y="405" width="70" height="65" fill="#f0f0f0"/>
<rect x="550" y="405" width="70" height="65" fill="#2fbf66"/>
<circle cx="1685" cy="330" r="46" fill="#2a0a0a"/><circle cx="1685" cy="330" r="38" fill="#d81818"/>
<rect x="1640" y="455" width="95" height="50" fill="#e8e8e8"/>
<circle cx="1685" cy="620" r="58" fill="#f0f0f0"/><circle cx="1685" cy="620" r="50" fill="#1a1a1a"/><circle cx="1695" cy="620" r="30" fill="#c8c8c8"/>
<circle cx="1690" cy="905" r="52" fill="#141414"/>
<circle cx="1135" cy="1225" r="46" fill="#1a1a1a"/><circle cx="1135" cy="1225" r="38" fill="#e02838"/>
<circle cx="1300" cy="1225" r="46" fill="#1a1a1a"/><circle cx="1300" cy="1225" r="38" fill="#f0e050"/>
<circle cx="1605" cy="1210" r="110" fill="#f2d200"/>
<circle cx="1625" cy="1215" r="70" fill="#3a1010"/><circle cx="1628" cy="1210" r="62" fill="#e05050"/>
<circle cx="240" cy="400" r="38" fill="#101010"/><circle cx="240" cy="400" r="24" fill="#9a9a9a"/>
<circle cx="770" cy="380" r="38" fill="#101010"/><circle cx="770" cy="380" r="24" fill="#9a9a9a"/>
<rect x="225" y="440" width="30" height="170" fill="#a8a8a8"/>
<rect x="735" y="420" width="45" height="170" fill="#b8b8b8"/>
<circle cx="185" cy="210" r="18" fill="#b0b0b0"/><circle cx="230" cy="1440" r="18" fill="#b0b0b0"/>
</g></g></g>
<g clip-path="url(#cp6)"><g filter="url(#soft)"><g transform="translate(3600,1780) scale(0.33613)">
<rect x="1000" y="150" width="700" height="1200" fill="#787a88"/>
<rect x="1600" y="150" width="70" height="1200" fill="#6a6c78"/>
<rect x="1610" y="600" width="50" height="750" fill="#2a2a2e"/>
<path d="M1250,380 L1250,300 C1250,240 1390,240 1390,300 L1390,380 Z" fill="#c8c8c4"/>
<circle cx="1320" cy="320" r="35" fill="#787a88"/>
<rect x="1290" y="200" width="60" height="90" fill="#c0c0c0"/>
<polygon points="1140,390 1505,390 1525,1210 1215,1215" fill="#d6d6d2"/>
<polygon points="1140,390 1505,390 1505,510 1140,510" fill="#e4e4e0"/>
<polygon points="1175,520 1300,520 1350,1195 1240,1195" fill="#141414"/>
<circle cx="1320" cy="690" r="68" fill="#1a1a1a"/>
<rect x="1300" y="660" width="25" height="100" fill="#e8e8e8"/>
<circle cx="1330" cy="890" r="68" fill="#1a1a1a"/>
<circle cx="1345" cy="1070" r="68" fill="#1a1a1a"/>
<rect x="1330" y="1215" width="90" height="80" fill="#222"/>
</g></g></g>
<g clip-path="url(#cp7)"><g filter="url(#soft)"><g transform="translate(3750,2255) scale(0.24734)">
<rect x="0" y="0" width="2300" height="1600" fill="#7c7a72"/>
<rect x="28" y="20" width="300" height="540" fill="#b9b9b5"/>
<rect x="320" y="20" width="500" height="160" fill="#a8a8a6"/>
<rect x="440" y="40" width="200" height="120" fill="#dcdcda"/>
<rect x="640" y="30" width="120" height="120" fill="#2e2e2e"/>
<rect x="360" y="30" width="60" height="130" fill="#3a3a3a"/>
<rect x="820" y="20" width="240" height="160" fill="#e2e2e0"/>
<rect x="1060" y="20" width="700" height="160" fill="#2e2e2e"/>
<rect x="1540" y="90" width="100" height="60" fill="#d88a20"/>
<rect x="28" y="550" width="180" height="250" fill="#4e7e52"/>
<rect x="28" y="780" width="130" height="740" fill="#8c887a"/>
<polygon points="320,175 1750,140 1750,650 330,640" fill="#2f3034"/>
<rect x="420" y="300" width="1220" height="92" fill="#e8891e"/>
<rect x="1520" y="210" width="100" height="40" fill="#c8202a"/>
<rect x="460" y="390" width="1160" height="165" fill="#4e5256"/>
<rect x="500" y="430" width="1100" height="45" fill="#a4aab0"/>
<rect x="850" y="230" width="120" height="200" fill="#3a3a3a"/>
<rect x="1700" y="20" width="270" height="640" fill="#dedbcc"/>
<rect x="1960" y="20" width="285" height="700" fill="#e6e2c6"/>
<rect x="1980" y="215" width="150" height="445" rx="40" fill="#2a2a2a"/>
<rect x="2150" y="250" width="95" height="420" fill="#4a4a48"/>
<rect x="1400" y="700" width="845" height="820" fill="#8a8579"/>
<rect x="1700" y="650" width="260" height="140" fill="#cfcbbe"/>
<rect x="1400" y="780" width="560" height="330" fill="#262626"/>
<rect x="1450" y="1110" width="300" height="410" fill="#9a958a"/>
<ellipse cx="1930" cy="950" rx="45" ry="170" fill="#333"/>
<rect x="1960" y="880" width="200" height="80" fill="#222"/>
<rect x="1750" y="1200" width="250" height="320" fill="#d4d2ca"/>
<polygon points="2100,700 2245,650 2245,1520 2150,1520" fill="#6a665e"/>
<polygon points="28,940 520,560 1330,560 1310,830 1230,900 1050,1520 28,1520" fill="#2d313a"/>
<ellipse cx="700" cy="860" rx="330" ry="170" fill="#4b525c" opacity="0.75"/>
<ellipse cx="800" cy="1330" rx="260" ry="120" fill="#404650" opacity="0.6"/>
<polygon points="1050,1520 1230,900 1320,850 1260,1520" fill="#1c1c1e"/>
<polygon points="1210,1520 1370,860 1440,880 1420,1520" fill="#9c988c"/>
<polygon points="28,940 160,820 160,880 28,990" fill="#8c887a"/>
<g fill="#8e8e8e"><rect x="200" y="540" width="130" height="170" rx="20"/><rect x="410" y="520" width="100" height="80" rx="20"/><rect x="1310" y="580" width="150" height="250" rx="30"/><rect x="1425" y="570" width="95" height="150" rx="25"/></g>
<g fill="#bfe3da"><rect x="160" y="730" width="90" height="70" rx="15"/><rect x="1250" y="840" width="100" height="120" rx="15"/><rect x="1090" y="1260" width="130" height="160" rx="15"/></g>
</g></g></g>
</svg>
<svg width="4595" height="2973" viewBox="0 0 4595 2973" style="position:absolute;left:0;top:0">
<defs><linearGradient id="paperg" x1="0" y1="0" x2="1" y2="1"><stop offset="0" stop-color="#f4f4f4"/><stop offset="1" stop-color="#dcdcdc"/></linearGradient></defs>
<rect x="553" y="454" width="25.0" height="57.0" fill="#ff0000"/><rect x="526.1" y="473.2" width="76.9" height="16.7" fill="#ff0000"/>
<rect x="1893.2" y="430" width="26.8" height="74.4" fill="#ff0000"/><rect x="1865" y="455" width="81.8" height="21.8" fill="#ff0000"/>
<path fill-rule="evenodd" fill="#008a00" d="M571.3,582.7 a27.8,30.5 0 1 0 0.01,0 Z M571.5,594.9 a16.5,18.4 0 1 1 -0.01,0 Z"/><polygon fill="#008a00" points="568.5,628.5 577.5,617.5 601.5,639.5 593.5,648"/>
<g transform="translate(542.00,784.10) scale(0.9944,1.0039)">
<path d="M9.5,1.4 H35 L52.3,20.5 V67.5 A8,8 0 0 1 44.3,75.5 H9.5 A8,8 0 0 1 1.5,67.5 V9.4 A8,8 0 0 1 9.5,1.4 Z" fill="#fff" stroke="#0e3d74" stroke-width="2.8" stroke-linejoin="round"/>
<path d="M35,1.4 V20.5 H52.3" fill="none" stroke="#0e3d74" stroke-width="2.8"/>
<text x="9" y="42.2" font-family="Liberation Sans, sans-serif" font-weight="bold" font-size="19" fill="#0e3d74" stroke="#0e3d74" stroke-width="0.6" textLength="37" lengthAdjust="spacingAndGlyphs">DOCS</text>
<rect x="9" y="48.1" width="37" height="1.9" fill="#a40000"/>
<rect x="9" y="54.9" width="37" height="1.9" fill="#8c0000"/>
<rect x="9" y="61.7" width="37" height="1.9" fill="#a40000"/>
</g>
<g transform="translate(1828.00,703.60) scale(1.0093,0.9922)">
<path d="M9.5,1.4 H35 L52.3,20.5 V67.5 A8,8 0 0 1 44.3,75.5 H9.5 A8,8 0 0 1 1.5,67.5 V9.4 A8,8 0 0 1 9.5,1.4 Z" fill="#fff" stroke="#0e3d74" stroke-width="2.8" stroke-linejoin="round"/>
<path d="M35,1.4 V20.5 H52.3" fill="none" stroke="#0e3d74" stroke-width="2.8"/>
<text x="9" y="42.2" font-family="Liberation Sans, sans-serif" font-weight="bold" font-size="19" fill="#0e3d74" stroke="#0e3d74" stroke-width="0.6" textLength="37" lengthAdjust="spacingAndGlyphs">DOCS</text>
<rect x="9" y="48.1" width="37" height="1.9" fill="#a40000"/>
<rect x="9" y="54.9" width="37" height="1.9" fill="#8c0000"/>
<rect x="9" y="61.7" width="37" height="1.9" fill="#a40000"/>
</g>
<g transform="translate(1805.50,1018.00) scale(0.8944,0.9701)">
<path d="M9.5,1.4 H35 L52.3,20.5 V67.5 A8,8 0 0 1 44.3,75.5 H9.5 A8,8 0 0 1 1.5,67.5 V9.4 A8,8 0 0 1 9.5,1.4 Z" fill="#fff" stroke="#0e3d74" stroke-width="2.8" stroke-linejoin="round"/>
<path d="M35,1.4 V20.5 H52.3" fill="none" stroke="#0e3d74" stroke-width="2.8"/>
<text x="9" y="42.2" font-family="Liberation Sans, sans-serif" font-weight="bold" font-size="19" fill="#0e3d74" stroke="#0e3d74" stroke-width="0.6" textLength="37" lengthAdjust="spacingAndGlyphs">DOCS</text>
<rect x="9" y="48.1" width="37" height="1.9" fill="#a40000"/>
<rect x="9" y="54.9" width="37" height="1.9" fill="#8c0000"/>
<rect x="9" y="61.7" width="37" height="1.9" fill="#a40000"/>
</g>
<line x1="1789" y1="997" x2="2016" y2="653" stroke="#555" stroke-width="2.6"/>
<line x1="1789" y1="1190" x2="2016" y2="999" stroke="#555" stroke-width="2.6"/>
<g transform="translate(525.00,1060.50) scale(1.0000,0.9986)">
<rect x="10" y="5" width="63.5" height="67" rx="5" fill="#121212"/>
<rect x="17.5" y="8.2" width="50.2" height="59" fill="#e9e9ea"/>
<rect x="17.5" y="8.2" width="50.2" height="59" fill="url(#paperg)"/>
<rect x="25" y="4.3" width="31.6" height="5.5" rx="1" fill="#d2d2d2"/>
<rect x="29.7" y="0" width="22.2" height="5" rx="1.5" fill="#e4e4e4"/>
<rect x="24" y="12" width="31" height="1.6" fill="#cdcdcd"/>
<rect x="17.5" y="18.8" width="30" height="2.4" fill="#c8c8c8"/>
<rect x="17.5" y="32.5" width="32" height="2.4" fill="#c8c8c8"/>
<rect x="17.5" y="46.5" width="32" height="2.4" fill="#c8c8c8"/>
<rect x="17.5" y="59.8" width="32" height="2.4" fill="#c8c8c8"/>
<g fill="none" stroke="#6f8db5" stroke-width="2.6" stroke-linecap="round" stroke-linejoin="round">
<path d="M55,17 L58,20.5 L64,13.5"/><path d="M55.5,30.5 L58.5,34 L64.5,27"/><path d="M56,44.5 L59,48 L65,41"/><path d="M56.5,57.8 L59.5,61.3 L65.5,54.3"/>
</g>
<line x1="10" y1="9.5" x2="47" y2="56" stroke="#1a1a1a" stroke-width="7" stroke-linecap="butt"/>
<line x1="5.5" y1="4" x2="10.5" y2="10" stroke="#111" stroke-width="8"/>
<line x1="8.6" y1="8.6" x2="10.5" y2="11" stroke="#f0f0f0" stroke-width="7.2"/>
<polygon points="44.2,57.8 49.6,53.6 52,63" fill="#b8965a"/>
<polygon points="49.3,60.5 51.1,59.3 52.2,63.3" fill="#111"/>
</g>
<g transform="translate(1875.90,583.80) scale(0.7306,0.7389)">
<rect x="10" y="5" width="63.5" height="67" rx="5" fill="#121212"/>
<rect x="17.5" y="8.2" width="50.2" height="59" fill="#e9e9ea"/>
<rect x="17.5" y="8.2" width="50.2" height="59" fill="url(#paperg)"/>
<rect x="25" y="4.3" width="31.6" height="5.5" rx="1" fill="#d2d2d2"/>
<rect x="29.7" y="0" width="22.2" height="5" rx="1.5" fill="#e4e4e4"/>
<rect x="24" y="12" width="31" height="1.6" fill="#cdcdcd"/>
<rect x="17.5" y="18.8" width="30" height="2.4" fill="#c8c8c8"/>
<rect x="17.5" y="32.5" width="32" height="2.4" fill="#c8c8c8"/>
<rect x="17.5" y="46.5" width="32" height="2.4" fill="#c8c8c8"/>
<rect x="17.5" y="59.8" width="32" height="2.4" fill="#c8c8c8"/>
<g fill="none" stroke="#6f8db5" stroke-width="2.6" stroke-linecap="round" stroke-linejoin="round">
<path d="M55,17 L58,20.5 L64,13.5"/><path d="M55.5,30.5 L58.5,34 L64.5,27"/><path d="M56,44.5 L59,48 L65,41"/><path d="M56.5,57.8 L59.5,61.3 L65.5,54.3"/>
</g>
<line x1="10" y1="9.5" x2="47" y2="56" stroke="#1a1a1a" stroke-width="7" stroke-linecap="butt"/>
<line x1="5.5" y1="4" x2="10.5" y2="10" stroke="#111" stroke-width="8"/>
<line x1="8.6" y1="8.6" x2="10.5" y2="11" stroke="#f0f0f0" stroke-width="7.2"/>
<polygon points="44.2,57.8 49.6,53.6 52,63" fill="#b8965a"/>
<polygon points="49.3,60.5 51.1,59.3 52.2,63.3" fill="#111"/>
</g>
<g transform="translate(1910.00,878.00) scale(0.8531,0.8472)">
<rect x="10" y="5" width="63.5" height="67" rx="5" fill="#121212"/>
<rect x="17.5" y="8.2" width="50.2" height="59" fill="#e9e9ea"/>
<rect x="17.5" y="8.2" width="50.2" height="59" fill="url(#paperg)"/>
<rect x="25" y="4.3" width="31.6" height="5.5" rx="1" fill="#d2d2d2"/>
<rect x="29.7" y="0" width="22.2" height="5" rx="1.5" fill="#e4e4e4"/>
<rect x="24" y="12" width="31" height="1.6" fill="#cdcdcd"/>
<rect x="17.5" y="18.8" width="30" height="2.4" fill="#c8c8c8"/>
<rect x="17.5" y="32.5" width="32" height="2.4" fill="#c8c8c8"/>
<rect x="17.5" y="46.5" width="32" height="2.4" fill="#c8c8c8"/>
<rect x="17.5" y="59.8" width="32" height="2.4" fill="#c8c8c8"/>
<g fill="none" stroke="#6f8db5" stroke-width="2.6" stroke-linecap="round" stroke-linejoin="round">
<path d="M55,17 L58,20.5 L64,13.5"/><path d="M55.5,30.5 L58.5,34 L64.5,27"/><path d="M56,44.5 L59,48 L65,41"/><path d="M56.5,57.8 L59.5,61.3 L65.5,54.3"/>
</g>
<line x1="10" y1="9.5" x2="47" y2="56" stroke="#1a1a1a" stroke-width="7" stroke-linecap="butt"/>
<line x1="5.5" y1="4" x2="10.5" y2="10" stroke="#111" stroke-width="8"/>
<line x1="8.6" y1="8.6" x2="10.5" y2="11" stroke="#f0f0f0" stroke-width="7.2"/>
<polygon points="44.2,57.8 49.6,53.6 52,63" fill="#b8965a"/>
<polygon points="49.3,60.5 51.1,59.3 52.2,63.3" fill="#111"/>
</g>
<g transform="translate(1928.00,1088.00) scale(0.8435,0.8472)">
<rect x="10" y="5" width="63.5" height="67" rx="5" fill="#121212"/>
<rect x="17.5" y="8.2" width="50.2" height="59" fill="#e9e9ea"/>
<rect x="17.5" y="8.2" width="50.2" height="59" fill="url(#paperg)"/>
<rect x="25" y="4.3" width="31.6" height="5.5" rx="1" fill="#d2d2d2"/>
<rect x="29.7" y="0" width="22.2" height="5" rx="1.5" fill="#e4e4e4"/>
<rect x="24" y="12" width="31" height="1.6" fill="#cdcdcd"/>
<rect x="17.5" y="18.8" width="30" height="2.4" fill="#c8c8c8"/>
<rect x="17.5" y="32.5" width="32" height="2.4" fill="#c8c8c8"/>
<rect x="17.5" y="46.5" width="32" height="2.4" fill="#c8c8c8"/>
<rect x="17.5" y="59.8" width="32" height="2.4" fill="#c8c8c8"/>
<g fill="none" stroke="#6f8db5" stroke-width="2.6" stroke-linecap="round" stroke-linejoin="round">
<path d="M55,17 L58,20.5 L64,13.5"/><path d="M55.5,30.5 L58.5,34 L64.5,27"/><path d="M56,44.5 L59,48 L65,41"/><path d="M56.5,57.8 L59.5,61.3 L65.5,54.3"/>
</g>
<line x1="10" y1="9.5" x2="47" y2="56" stroke="#1a1a1a" stroke-width="7" stroke-linecap="butt"/>
<line x1="5.5" y1="4" x2="10.5" y2="10" stroke="#111" stroke-width="8"/>
<line x1="8.6" y1="8.6" x2="10.5" y2="11" stroke="#f0f0f0" stroke-width="7.2"/>
<polygon points="44.2,57.8 49.6,53.6 52,63" fill="#b8965a"/>
<polygon points="49.3,60.5 51.1,59.3 52.2,63.3" fill="#111"/>
</g>
<g transform="translate(1865.00,1304.00) scale(0.9837,0.9417)">
<rect x="10" y="5" width="63.5" height="67" rx="5" fill="#121212"/>
<rect x="17.5" y="8.2" width="50.2" height="59" fill="#e9e9ea"/>
<rect x="17.5" y="8.2" width="50.2" height="59" fill="url(#paperg)"/>
<rect x="25" y="4.3" width="31.6" height="5.5" rx="1" fill="#d2d2d2"/>
<rect x="29.7" y="0" width="22.2" height="5" rx="1.5" fill="#e4e4e4"/>
<rect x="24" y="12" width="31" height="1.6" fill="#cdcdcd"/>
<rect x="17.5" y="18.8" width="30" height="2.4" fill="#c8c8c8"/>
<rect x="17.5" y="32.5" width="32" height="2.4" fill="#c8c8c8"/>
<rect x="17.5" y="46.5" width="32" height="2.4" fill="#c8c8c8"/>
<rect x="17.5" y="59.8" width="32" height="2.4" fill="#c8c8c8"/>
<g fill="none" stroke="#6f8db5" stroke-width="2.6" stroke-linecap="round" stroke-linejoin="round">
<path d="M55,17 L58,20.5 L64,13.5"/><path d="M55.5,30.5 L58.5,34 L64.5,27"/><path d="M56,44.5 L59,48 L65,41"/><path d="M56.5,57.8 L59.5,61.3 L65.5,54.3"/>
</g>
<line x1="10" y1="9.5" x2="47" y2="56" stroke="#1a1a1a" stroke-width="7" stroke-linecap="butt"/>
<line x1="5.5" y1="4" x2="10.5" y2="10" stroke="#111" stroke-width="8"/>
<line x1="8.6" y1="8.6" x2="10.5" y2="11" stroke="#f0f0f0" stroke-width="7.2"/>
<polygon points="44.2,57.8 49.6,53.6 52,63" fill="#b8965a"/>
<polygon points="49.3,60.5 51.1,59.3 52.2,63.3" fill="#111"/>
</g>
<g transform="translate(1869.00,1559.70) scale(0.9483,1.0458)">
<rect x="10" y="5" width="63.5" height="67" rx="5" fill="#121212"/>
<rect x="17.5" y="8.2" width="50.2" height="59" fill="#e9e9ea"/>
<rect x="17.5" y="8.2" width="50.2" height="59" fill="url(#paperg)"/>
<rect x="25" y="4.3" width="31.6" height="5.5" rx="1" fill="#d2d2d2"/>
<rect x="29.7" y="0" width="22.2" height="5" rx="1.5" fill="#e4e4e4"/>
<rect x="24" y="12" width="31" height="1.6" fill="#cdcdcd"/>
<rect x="17.5" y="18.8" width="30" height="2.4" fill="#c8c8c8"/>
<rect x="17.5" y="32.5" width="32" height="2.4" fill="#c8c8c8"/>
<rect x="17.5" y="46.5" width="32" height="2.4" fill="#c8c8c8"/>
<rect x="17.5" y="59.8" width="32" height="2.4" fill="#c8c8c8"/>
<g fill="none" stroke="#6f8db5" stroke-width="2.6" stroke-linecap="round" stroke-linejoin="round">
<path d="M55,17 L58,20.5 L64,13.5"/><path d="M55.5,30.5 L58.5,34 L64.5,27"/><path d="M56,44.5 L59,48 L65,41"/><path d="M56.5,57.8 L59.5,61.3 L65.5,54.3"/>
</g>
<line x1="10" y1="9.5" x2="47" y2="56" stroke="#1a1a1a" stroke-width="7" stroke-linecap="butt"/>
<line x1="5.5" y1="4" x2="10.5" y2="10" stroke="#111" stroke-width="8"/>
<line x1="8.6" y1="8.6" x2="10.5" y2="11" stroke="#f0f0f0" stroke-width="7.2"/>
<polygon points="44.2,57.8 49.6,53.6 52,63" fill="#b8965a"/>
<polygon points="49.3,60.5 51.1,59.3 52.2,63.3" fill="#111"/>
</g>
<polygon points="451.4,1287 529.3,1287 492,1363" fill="#ff0000" stroke="#000" stroke-width="2" stroke-linejoin="miter"/>
<polygon points="526.6,1287 606.5,1287 566,1363" fill="#ffff00" stroke="#000" stroke-width="2" stroke-linejoin="miter"/>
<polygon points="606.5,1287 689,1287 647,1363" fill="#558ed5" stroke="#000" stroke-width="2" stroke-linejoin="miter"/>
<text x="492" y="1330" text-anchor="middle" font-family="Liberation Sans, sans-serif" font-weight="bold" font-size="29" fill="#000">A</text>
<text x="566.5" y="1330" text-anchor="middle" font-family="Liberation Sans, sans-serif" font-weight="bold" font-size="29" fill="#000">B</text>
<text x="647" y="1330" text-anchor="middle" font-family="Liberation Sans, sans-serif" font-weight="bold" font-size="29" fill="#000">C</text>
</svg>
<svg width="4595" height="2973" viewBox="0 0 4595 2973" style="position:absolute;left:0;top:0" font-family="Liberation Sans, sans-serif">
<line x1="943.0" y1="1926.0" x2="638.7" y2="2083.2" stroke="#ffc000" stroke-width="9"/><polygon points="606.7,2099.7 630.4,2067.2 646.9,2099.2" fill="#ffc000"/>
<line x1="943.0" y1="2099.7" x2="658.0" y2="2169.4" stroke="#ffc000" stroke-width="9"/><polygon points="623.0,2178.0 653.7,2152.0 662.2,2186.9" fill="#ffc000"/>
<line x1="958.0" y1="2356.0" x2="740.0" y2="2358.2" stroke="#ffc000" stroke-width="9"/><polygon points="704.0,2358.6 739.8,2340.2 740.2,2376.2" fill="#ffc000"/>
<line x1="958.0" y1="2356.0" x2="698.4" y2="2502.3" stroke="#ffc000" stroke-width="9"/><polygon points="667.0,2520.0 689.5,2486.6 707.2,2518.0" fill="#ffc000"/>
<line x1="921.0" y1="2638.0" x2="689.2" y2="2391.7" stroke="#ffc000" stroke-width="9"/><polygon points="664.5,2365.5 702.3,2379.4 676.1,2404.1" fill="#ffc000"/>
<line x1="921.0" y1="2638.0" x2="512.7" y2="2462.9" stroke="#ffc000" stroke-width="9"/><polygon points="479.6,2448.7 519.8,2446.3 505.6,2479.4" fill="#ffc000"/>
<line x1="921.0" y1="2638.0" x2="676.6" y2="2585.6" stroke="#ffc000" stroke-width="9"/><polygon points="641.4,2578.0 680.4,2568.0 672.8,2603.2" fill="#ffc000"/>
<line x1="1810.0" y1="1881.0" x2="1700.4" y2="2018.8" stroke="#00b050" stroke-width="9"/><polygon points="1678.0,2047.0 1686.3,2007.6 1714.5,2030.0" fill="#00b050"/>
<line x1="1774.0" y1="2123.0" x2="1487.0" y2="2136.3" stroke="#00b050" stroke-width="9"/><polygon points="1451.0,2138.0 1486.1,2118.3 1487.8,2154.3" fill="#00b050"/>
<line x1="1783.0" y1="2403.7" x2="1525.1" y2="2463.5" stroke="#00b050" stroke-width="9"/><polygon points="1490.0,2471.6 1521.0,2445.9 1529.1,2481.0" fill="#00b050"/>
<line x1="1798.0" y1="2528.7" x2="1570.9" y2="2546.2" stroke="#00b050" stroke-width="9"/><polygon points="1535.0,2549.0 1569.5,2528.3 1572.3,2564.2" fill="#00b050"/>
<line x1="1789.0" y1="2672.6" x2="1645.0" y2="2622.8" stroke="#00b050" stroke-width="9"/><polygon points="1611.0,2611.0 1650.9,2605.8 1639.1,2639.8" fill="#00b050"/>
<line x1="2291.8" y1="1986.0" x2="2492.9" y2="2071.5" stroke="#00b0f0" stroke-width="7"/><polygon points="2518.7,2082.5 2487.5,2084.4 2498.4,2058.7" fill="#00b0f0"/>
<line x1="2617.6" y1="1882.7" x2="2632.6" y2="2175.5" stroke="#00b0f0" stroke-width="7"/><polygon points="2634.0,2203.5 2618.6,2176.3 2646.6,2174.8" fill="#00b0f0"/>
<line x1="3420.0" y1="2024.5" x2="2854.1" y2="2212.2" stroke="#00b0f0" stroke-width="7"/><polygon points="2827.5,2221.0 2849.7,2198.9 2858.5,2225.5" fill="#00b0f0"/>
<line x1="2382.0" y1="2208.6" x2="2500.4" y2="2230.0" stroke="#00b0f0" stroke-width="7"/><polygon points="2528.0,2235.0 2498.0,2243.8 2502.9,2216.2" fill="#00b0f0"/>
<line x1="2424.0" y1="2366.6" x2="2667.4" y2="2258.9" stroke="#00b0f0" stroke-width="7"/><polygon points="2693.0,2247.6 2673.1,2271.7 2661.7,2246.1" fill="#00b0f0"/>
<line x1="2350.4" y1="2456.0" x2="2514.7" y2="2389.5" stroke="#00b0f0" stroke-width="7"/><polygon points="2540.7,2379.0 2520.0,2402.5 2509.5,2376.5" fill="#00b0f0"/>
<line x1="2383.0" y1="2622.0" x2="2682.3" y2="2395.9" stroke="#00b0f0" stroke-width="7"/><polygon points="2704.6,2379.0 2690.7,2407.0 2673.8,2384.7" fill="#00b0f0"/>
<line x1="2670.0" y1="2645.8" x2="2655.7" y2="2562.5" stroke="#00b0f0" stroke-width="7"/><polygon points="2651.0,2534.9 2669.5,2560.1 2641.9,2564.9" fill="#00b0f0"/>
<line x1="2941.0" y1="2651.0" x2="2759.5" y2="2533.1" stroke="#00b0f0" stroke-width="7"/><polygon points="2736.0,2517.9 2767.1,2521.4 2751.9,2544.9" fill="#00b0f0"/>
<line x1="3174.0" y1="2637.0" x2="2856.9" y2="2518.2" stroke="#00b0f0" stroke-width="7"/><polygon points="2830.7,2508.4 2861.8,2505.1 2852.0,2531.3" fill="#00b0f0"/>
<line x1="3422.0" y1="2404.4" x2="2855.4" y2="2364.0" stroke="#00b0f0" stroke-width="7"/><polygon points="2827.5,2362.0 2856.4,2350.0 2854.4,2378.0" fill="#00b0f0"/>
<line x1="3716.0" y1="2666.0" x2="3846.9" y2="2431.9" stroke="#7030a0" stroke-width="8"/><polygon points="3862.5,2404.0 3860.8,2439.7 3832.9,2424.1" fill="#7030a0"/>
<line x1="3716.0" y1="2666.0" x2="4046.1" y2="2453.3" stroke="#7030a0" stroke-width="8"/><polygon points="4073.0,2436.0 4054.8,2466.8 4037.4,2439.9" fill="#7030a0"/>
<line x1="4094.6" y1="2674.0" x2="4191.4" y2="2545.6" stroke="#7030a0" stroke-width="8"/><polygon points="4210.7,2520.0 4204.2,2555.2 4178.7,2535.9" fill="#7030a0"/>
<rect x="945.2" y="1871.8" width="282.5" height="104.6" fill="#fff" stroke="#ffc000" stroke-width="4.5"/>
<text x="964.8" y="1912.5" font-size="30" font-weight="normal" fill="#000">Tooling Control</text>
<text x="964.8" y="1953.2" font-size="30" font-weight="normal" fill="#000">Chart</text>
<rect x="945.2" y="2061.2" width="218.5" height="71.5" fill="#fff" stroke="#ffc000" stroke-width="4.5"/>
<text x="964.8" y="2102.0" font-size="30" font-weight="normal" fill="#000">Kanban Card</text>
<rect x="960.2" y="2328.2" width="208.1" height="54.9" fill="#fff" stroke="#ffc000" stroke-width="4.5"/>
<text x="979.0" y="2369.2" font-size="30" font-weight="normal" fill="#000">Rear Arms</text>
<rect x="930.2" y="2620.2" width="204.5" height="58.5" fill="#fff" stroke="#ffc000" stroke-width="4.5"/>
<text x="949.0" y="2660.4" font-size="30" font-weight="normal" fill="#000">Front Arms</text>
<rect x="1812.2" y="1823.2" width="221.0" height="115.5" fill="#fff" stroke="#00b050" stroke-width="4.5"/>
<text x="1832.8" y="1864.0" font-size="30" font-weight="normal" fill="#000">Hold Down</text>
<text x="1832.8" y="1905.0" font-size="30" font-weight="normal" fill="#000">Roll Lever</text>
<rect x="1776.2" y="2060.2" width="245.5" height="114.5" fill="#fff" stroke="#00b050" stroke-width="4.5"/>
<text x="1795.8" y="2100.0" font-size="30" font-weight="normal" fill="#000">Expand and</text>
<text x="1795.8" y="2141.3" font-size="30" font-weight="normal" fill="#000">Contract Lever</text>
<rect x="1785.2" y="2369.2" width="211.5" height="72.5" fill="#fff" stroke="#00b050" stroke-width="4.5"/>
<text x="1805.0" y="2410.4" font-size="30" font-weight="normal" fill="#000">Entry Roller</text>
<rect x="1800.2" y="2495.2" width="233.0" height="71.5" fill="#fff" stroke="#00b050" stroke-width="4.5"/>
<text x="1820.7" y="2535.5" font-size="30" font-weight="normal" fill="#000">Middle Roller</text>
<rect x="1791.2" y="2635.2" width="184.5" height="72.1" fill="#fff" stroke="#00b050" stroke-width="4.5"/>
<text x="1810.6" y="2675.0" font-size="30" font-weight="normal" fill="#000">Exit Roller</text>
<rect x="2216.2" y="1883.2" width="154.0" height="100.5" fill="#fff" stroke="#00b0f0" stroke-width="4.5"/>
<text x="2235.0" y="1923.7" font-size="30" font-weight="normal" fill="#000">Feeder</text>
<text x="2235.0" y="1964.7" font-size="30" font-weight="normal" fill="#000">Power</text>
<rect x="2492.2" y="1823.2" width="251.5" height="57.2" fill="#fff" stroke="#00b0f0" stroke-width="4.5"/>
<text x="2511.4" y="1863.8" font-size="30" font-weight="normal" fill="#000">Mandrel Auto</text>
<rect x="2863.2" y="1854.2" width="315.5" height="57.1" fill="#fff" stroke="#00b0f0" stroke-width="4.5"/>
<text x="2883.0" y="1894.7" font-size="28.4" font-weight="bold" fill="#000">Feeder Control Box</text>
<rect x="3422.2" y="1990.2" width="190.2" height="68.0" fill="#fff" stroke="#00b0f0" stroke-width="4.5"/>
<text x="3441.0" y="2030.8" font-size="30" font-weight="normal" fill="#000">Feed Auto</text>
<rect x="2188.8" y="2159.2" width="191.0" height="100.5" fill="#fff" stroke="#00b0f0" stroke-width="4.5"/>
<text x="2209.0" y="2199.0" font-size="30" font-weight="normal" fill="#000">Line</text>
<text x="2209.0" y="2240.0" font-size="30" font-weight="normal" fill="#000">Readiness</text>
<rect x="2221.2" y="2338.2" width="200.5" height="60.5" fill="#fff" stroke="#00b0f0" stroke-width="4.5"/>
<text x="2240.4" y="2378.0" font-size="30" font-weight="normal" fill="#000">Single Feed</text>
<rect x="2272.2" y="2458.2" width="159.1" height="62.5" fill="#fff" stroke="#00b0f0" stroke-width="4.5"/>
<text x="2292.7" y="2499.0" font-size="30" font-weight="normal" fill="#000">Manual</text>
<rect x="2293.2" y="2624.2" width="182.2" height="58.5" fill="#fff" stroke="#00b0f0" stroke-width="4.5"/>
<text x="2313.0" y="2662.8" font-size="30" font-weight="normal" fill="#000">Entry Roll</text>
<rect x="2554.2" y="2648.1" width="233.2" height="70.5" fill="#fff" stroke="#00b0f0" stroke-width="4.5"/>
<text x="2574.4" y="2686.8" font-size="30" font-weight="normal" fill="#000">Mandrel Jog</text>
<rect x="2855.2" y="2653.2" width="170.5" height="57.5" fill="#fff" stroke="#00b0f0" stroke-width="4.5"/>
<text x="2875.0" y="2693.0" font-size="30" font-weight="normal" fill="#000">Feed Roll</text>
<rect x="3095.8" y="2639.2" width="161.0" height="62.3" fill="#fff" stroke="#00b0f0" stroke-width="4.5"/>
<text x="3115.0" y="2678.6" font-size="30" font-weight="normal" fill="#000">Feed Jog</text>
<rect x="3424.2" y="2377.1" width="179.5" height="59.7" fill="#fff" stroke="#00b0f0" stroke-width="4.5"/>
<text x="3444.0" y="2417.0" font-size="30" font-weight="normal" fill="#000">Work Roll</text>
<rect x="3908.2" y="1789.7" width="287.5" height="55.1" fill="#fff" stroke="#000" stroke-width="4.5"/>
<text x="3943.0" y="1832.0" font-size="30" font-weight="normal" fill="#000">Hand Controller</text>
<rect x="3595.2" y="2668.2" width="236.5" height="71.5" fill="#fff" stroke="#7030a0" stroke-width="4.5"/>
<text x="3615.0" y="2707.5" font-size="30" font-weight="normal" fill="#000">Guide Rollers</text>
<rect x="3898.2" y="2676.2" width="393.1" height="61.5" fill="#fff" stroke="#7030a0" stroke-width="4.5"/>
<text x="3926.0" y="2716.4" font-size="30" font-weight="normal" fill="#000">Guide Roller Adjustment</text>
<ellipse cx="372" cy="1889" rx="46" ry="44.8" fill="#fff" stroke="#000" stroke-width="4.4"/>
<text x="372" y="1901.5" font-size="35" text-anchor="middle" fill="#000">1</text>
<ellipse cx="369" cy="2333" rx="46" ry="44.8" fill="#fff" stroke="#000" stroke-width="4.4"/>
<text x="369" y="2345.5" font-size="35" text-anchor="middle" fill="#000">2</text>
<ellipse cx="1367" cy="1854" rx="46" ry="44.8" fill="#fff" stroke="#000" stroke-width="4.4"/>
<text x="1367" y="1866.5" font-size="35" text-anchor="middle" fill="#000">3</text>
<ellipse cx="1365" cy="2365" rx="46" ry="44.8" fill="#fff" stroke="#000" stroke-width="4.4"/>
<text x="1365" y="2377.5" font-size="35" text-anchor="middle" fill="#000">4</text>
<ellipse cx="2454" cy="1948" rx="46" ry="44.8" fill="#fff" stroke="#000" stroke-width="4.4"/>
<text x="2454" y="1960.5" font-size="35" text-anchor="middle" fill="#000">5</text>
<ellipse cx="3919" cy="1889" rx="46" ry="44.8" fill="#fff" stroke="#000" stroke-width="4.4"/>
<text x="3919" y="1901.5" font-size="35" text-anchor="middle" fill="#000">6</text>
<ellipse cx="3784" cy="2278" rx="46" ry="44.8" fill="#fff" stroke="#000" stroke-width="4.4"/>
<text x="3784" y="2290.5" font-size="35" text-anchor="middle" fill="#000">7</text>
</svg>
</body></html>
